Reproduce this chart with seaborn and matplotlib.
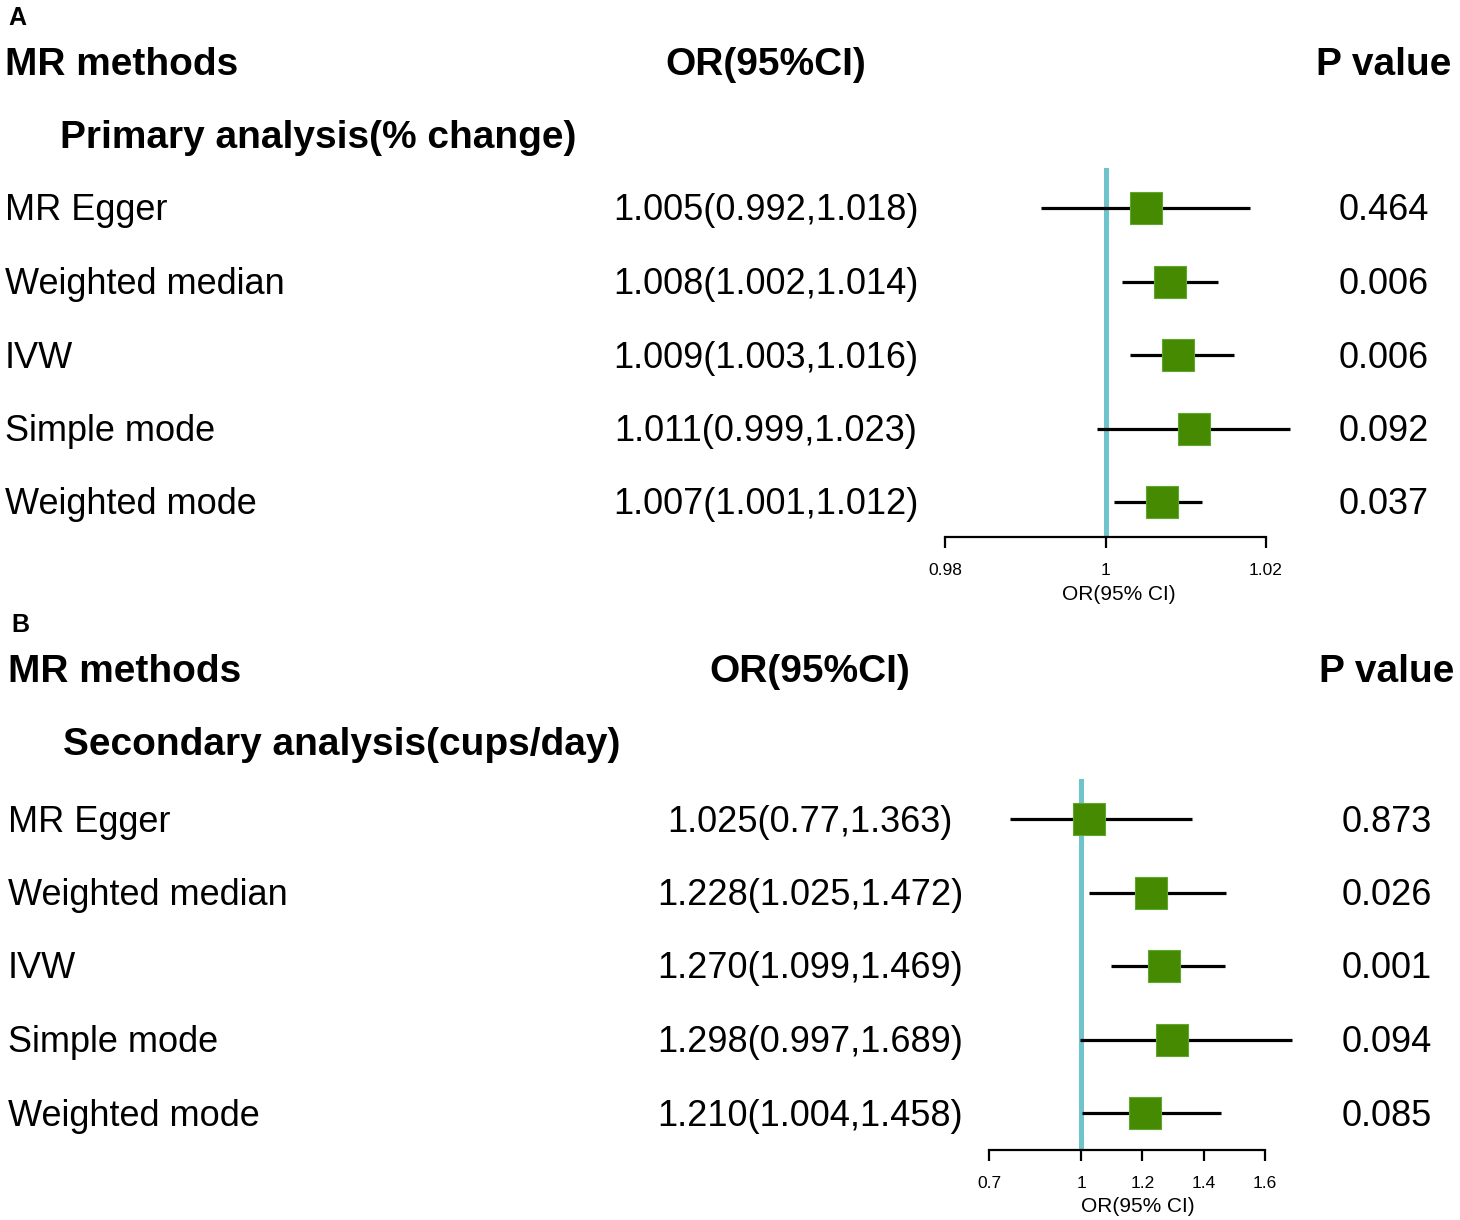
import numpy as np
import matplotlib
matplotlib.use("Agg")
import matplotlib.pyplot as plt
import seaborn as sns

# ---- data ----
methods = ["MR Egger", "Weighted median", "IVW", "Simple mode", "Weighted mode"]

or_a = [1.005, 1.008, 1.009, 1.011, 1.007]
lo_a = [0.992, 1.002, 1.003, 0.999, 1.001]
hi_a = [1.018, 1.014, 1.016, 1.023, 1.012]
p_a = ["0.464", "0.006", "0.006", "0.092", "0.037"]
or_text_a = ["1.005(0.992,1.018)", "1.008(1.002,1.014)", "1.009(1.003,1.016)",
             "1.011(0.999,1.023)", "1.007(1.001,1.012)"]
ticks_a = [0.98, 1, 1.02]
tick_labels_a = ["0.98", "1", "1.02"]

or_b = [1.025, 1.228, 1.270, 1.298, 1.210]
lo_b = [0.77, 1.025, 1.099, 0.997, 1.004]
hi_b = [1.363, 1.472, 1.469, 1.689, 1.458]
p_b = ["0.873", "0.026", "0.001", "0.094", "0.085"]
or_text_b = ["1.025(0.77,1.363)", "1.228(1.025,1.472)", "1.270(1.099,1.469)",
             "1.298(0.997,1.689)", "1.210(1.004,1.458)"]
ticks_b = [0.7, 1, 1.2, 1.4, 1.6]
tick_labels_b = ["0.7", "1", "1.2", "1.4", "1.6"]

W, H = 1460, 1220
GREEN = "#458A00"
TEAL = "#6FC4CC"

sns.set_theme(style="white")
plt.rcParams['font.family'] = ['Liberation Sans', 'DejaVu Sans']
plt.rcParams['text.color'] = 'black'
plt.rcParams['axes.labelcolor'] = 'black'
plt.rcParams['xtick.color'] = 'black'

fig = plt.figure(figsize=(W / 100, H / 100), dpi=100)


def ftext(x, y, s, **kw):
    # place text using pixel coords of the reference (y from top)
    fig.text(x / W, 1 - (y + 3) / H, s, va="center", color="black", **kw)


def panel(letter, top, row0, axis_y, x_lo_px, x_hi_px, xlim, x_or, x_p,
          subtitle, ors, los, his, ptxt, ortxt, ticks, tlabels, label_dx):
    step = 73.5
    ftext(label_dx, top + 15, letter, fontsize=18, fontweight="bold")
    ftext(label_dx - 3, top + 62, "MR methods", fontsize=28, fontweight="bold")
    ftext(x_or, top + 62, "OR(95%CI)", fontsize=28, fontweight="bold", ha="center")
    ftext(x_p, top + 62, "P value", fontsize=28, fontweight="bold", ha="center")
    ftext(label_dx + 52, top + 135, subtitle, fontsize=28, fontweight="bold")
    for i, m in enumerate(methods):
        y = row0 + step * i
        ftext(label_dx - 3, y, m, fontsize=26)
        ftext(x_or, y, ortxt[i], fontsize=26, ha="center")
        ftext(x_p, y, ptxt[i], fontsize=26, ha="center")

    line_top = row0 - 40
    ax = fig.add_axes([x_lo_px / W, 1 - axis_y / H,
                       (x_hi_px - x_lo_px) / W, (axis_y - line_top) / H])
    rows = np.arange(len(methods))
    ax.axvline(1, color=TEAL, lw=3.6, zorder=1)
    ax.hlines(rows, los, his, color="black", lw=2.3, zorder=2, clip_on=False)
    sns.scatterplot(x=ors, y=rows, marker="s", s=540, color=GREEN,
                    edgecolor="#5EA832", linewidth=0.8, ax=ax, zorder=3,
                    clip_on=False, legend=False)
    ax.set_xlim(*xlim)
    ax.set_ylim((axis_y - row0) / step, (line_top - row0) / step)
    for s in ["top", "left", "right"]:
        ax.spines[s].set_visible(False)
    ax.spines["bottom"].set_linewidth(1.6)
    ax.spines["bottom"].set_color("black")
    ax.set_yticks([])
    ax.set_xticks(ticks)
    ax.set_xticklabels(tlabels)
    ax.tick_params(axis="x", direction="out", length=8, width=1.6,
                   labelsize=12.5, pad=11, bottom=True, color="black",
                   labelcolor="black")
    ax.set_xlabel("OR(95% CI)", fontsize=15, color="black")
    # label sits a little right of the axis centre in the reference
    ax.xaxis.set_label_coords(0.54, -57 / (axis_y - line_top), transform=ax.transAxes)
    ax.xaxis.label.set_va("center")
    ax.patch.set_alpha(0)


panel("A", 0, 208, 537, 945, 1266, (0.98, 1.02), 766, 1384,
      "Primary analysis(% change)", or_a, lo_a, hi_a, p_a, or_text_a,
      ticks_a, tick_labels_a, 8)
panel("B", 607, 819, 1150, 989, 1265, (0.7, 1.6), 810, 1387,
      "Secondary analysis(cups/day)", or_b, lo_b, hi_b, p_b, or_text_b,
      ticks_b, tick_labels_b, 11)

fig.savefig("out.png", dpi=100)
